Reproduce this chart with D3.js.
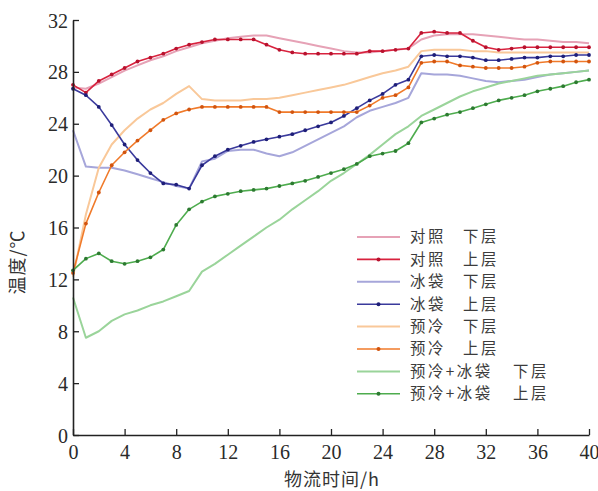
<!DOCTYPE html>
<html>
<head>
<meta charset="utf-8">
<script src="https://cdn.jsdelivr.net/npm/d3@7"></script>
<style>
  html, body { margin: 0; padding: 0; background: #fff; }
  svg { display: block; }
</style>
</head>
<body>
<div id="chart"></div>
<script>
// hours 0..40
const hours = d3.range(0, 41);

const ctrlLower = [26.8, 26.7, 27.1, 27.6, 28.1, 28.5, 28.9, 29.2, 29.6, 29.9, 30.2, 30.4, 30.6, 30.7, 30.8, 30.8, 30.6, 30.4, 30.2, 30.0,
  29.8, 29.6, 29.5, 29.5, 29.6, 29.7, 29.8, 30.5, 30.8, 30.9, 30.9, 30.9, 30.8, 30.7, 30.6, 30.5, 30.5, 30.4, 30.3, 30.3, 30.2];
const ctrlUpper = [27.0, 26.4, 27.3, 27.8, 28.3, 28.8, 29.1, 29.4, 29.8, 30.1, 30.3, 30.5, 30.5, 30.5, 30.5, 30.1, 29.7, 29.5, 29.4, 29.4,
  29.4, 29.4, 29.4, 29.6, 29.6, 29.7, 29.8, 31.0, 31.1, 31.0, 31.0, 30.4, 29.9, 29.7, 29.8, 29.9, 29.9, 29.9, 29.9, 29.9, 29.9];
const iceLower = [23.5, 20.7, 20.6, 20.6, 20.4, 20.1, 19.8, 19.5, 19.2, 19.0, 21.1, 21.3, 21.9, 22.0, 22.0, 21.7, 21.5, 21.8, 22.3, 22.8,
  23.3, 23.8, 24.5, 25.0, 25.3, 25.6, 26.0, 27.9, 27.8, 27.8, 27.7, 27.5, 27.3, 27.2, 27.3, 27.4, 27.6, 27.8, 27.9, 28.0, 28.1];
const iceUpper = [26.7, 26.2, 25.3, 23.9, 22.4, 21.2, 20.2, 19.4, 19.3, 19.0, 20.8, 21.5, 22.0, 22.3, 22.6, 22.8, 23.0, 23.2, 23.5, 23.8,
  24.1, 24.6, 25.2, 25.8, 26.3, 27.0, 27.4, 29.2, 29.3, 29.2, 29.2, 29.1, 28.9, 28.9, 29.0, 29.1, 29.1, 29.2, 29.2, 29.3, 29.3];
const preLower = [12.2, 17.0, 20.6, 22.4, 23.5, 24.4, 25.1, 25.6, 26.3, 26.9, 25.9, 25.8, 25.8, 25.8, 25.9, 25.9, 26.0, 26.2, 26.4, 26.6,
  26.8, 27.0, 27.3, 27.6, 27.9, 28.1, 28.4, 29.6, 29.7, 29.7, 29.7, 29.6, 29.6, 29.5, 29.5, 29.5, 29.5, 29.5, 29.5, 29.5, 29.5];
const preUpper = [12.5, 16.3, 18.7, 20.8, 21.8, 22.7, 23.5, 24.3, 24.8, 25.1, 25.3, 25.3, 25.3, 25.3, 25.3, 25.3, 24.9, 24.9, 24.9, 24.9,
  24.9, 24.9, 24.9, 25.4, 26.0, 26.2, 26.8, 28.7, 28.8, 28.8, 28.5, 28.4, 28.3, 28.3, 28.3, 28.4, 28.7, 28.8, 28.8, 28.8, 28.8];
const bothLower = [10.6, 7.5, 8.0, 8.8, 9.3, 9.6, 10.0, 10.3, 10.7, 11.1, 12.6, 13.2, 13.9, 14.6, 15.3, 16.0, 16.6, 17.4, 18.1, 18.8,
  19.6, 20.2, 20.9, 21.6, 22.4, 23.2, 23.8, 24.6, 25.1, 25.6, 26.1, 26.5, 26.8, 27.1, 27.3, 27.5, 27.7, 27.8, 27.9, 28.0, 28.1];
const bothUpper = [12.7, 13.6, 14.0, 13.4, 13.2, 13.4, 13.7, 14.3, 16.2, 17.4, 18.0, 18.4, 18.6, 18.8, 18.9, 19.0, 19.2, 19.4, 19.6, 19.9,
  20.2, 20.5, 20.9, 21.5, 21.7, 21.9, 22.5, 24.1, 24.4, 24.7, 24.9, 25.2, 25.5, 25.8, 26.0, 26.2, 26.5, 26.7, 26.9, 27.2, 27.4];

const seriesNames = ["对照", "对照", "冰袋", "冰袋", "预冷", "预冷", "预冷+冰袋", "预冷+冰袋"];
const layerNames = ["下层", "上层", "下层", "上层", "下层", "上层", "下层", "上层"];
const seriesValues = [ctrlLower, ctrlUpper, iceLower, iceUpper, preLower, preUpper, bothLower, bothUpper];

const xTicks = d3.range(0, 41, 4);
const yTicks = d3.range(0, 33, 4);

const lineColors = ["#e6a2b6", "#d8223e", "#a6a6da", "#3a3a9c", "#f9c899", "#f07a2a", "#9ad49a", "#4eac4e"];
const dotColors = [null, "#b8122e", null, "#1e1e78", null, "#d2540e", null, "#2c7a30"];

const width = 598, height = 491;
const margin = { left: 73, right: 9, top: 20, bottom: 56 };

const svg = d3.select("#chart").append("svg")
  .attr("width", width)
  .attr("height", height);

const x = d3.scaleLinear().domain([0, 40]).range([margin.left, width - margin.right]);
const y = d3.scaleLinear().domain([0, 32]).range([height - margin.bottom, margin.top]);

// lines, lower layers first so the dotted ones sit on top
const order = [0, 2, 4, 6, 1, 3, 5, 7];
const line = d3.line().x((d, i) => x(hours[i])).y(d => y(d));

order.forEach(k => {
  const upper = dotColors[k] !== null;
  svg.append("path")
    .datum(seriesValues[k])
    .attr("fill", "none")
    .attr("stroke", lineColors[k])
    .attr("stroke-width", upper ? 1.6 : 2)
    .attr("stroke-linejoin", "round")
    .attr("d", line);
  if (upper) {
    svg.append("g").selectAll("circle")
      .data(seriesValues[k])
      .join("circle")
      .attr("cx", (d, i) => x(hours[i]))
      .attr("cy", d => y(d))
      .attr("r", 1.9)
      .attr("fill", dotColors[k]);
  }
});

// axes
const xAxis = svg.append("g")
  .attr("transform", `translate(0,${y(0)})`)
  .call(d3.axisBottom(x).tickValues(xTicks).tickSizeInner(-6).tickSizeOuter(0).tickPadding(9));
const yAxis = svg.append("g")
  .attr("transform", `translate(${x(0)},0)`)
  .call(d3.axisLeft(y).tickValues(yTicks).tickSizeInner(-6).tickSizeOuter(0).tickPadding(5));

[xAxis, yAxis].forEach(g => {
  g.select(".domain").attr("stroke", "#222").attr("stroke-width", 1.6);
  g.selectAll(".tick line").attr("stroke", "#222").attr("stroke-width", 1.3);
  g.selectAll(".tick text")
    .attr("fill", "#2a2a2a")
    .style("font-family", "'Liberation Serif', 'DejaVu Serif', serif")
    .style("font-size", "20px");
});
xAxis.selectAll(".tick text").attr("dy", "0.75em");
yAxis.selectAll(".tick text").attr("dy", "0.35em");

// axis titles
svg.append("text")
  .attr("x", 332).attr("y", 486)
  .attr("text-anchor", "middle")
  .attr("fill", "#333")
  .style("font-family", "'Noto Sans CJK SC', sans-serif")
  .style("font-size", "18px")
  .style("letter-spacing", "1px")
  .text("物流时间/h");

svg.append("text")
  .attr("transform", "translate(24,262) rotate(-90)")
  .attr("text-anchor", "middle")
  .attr("fill", "#333")
  .style("font-family", "'Noto Sans CJK SC', sans-serif")
  .style("font-size", "18px")
  .style("letter-spacing", "1px")
  .text("温度/℃");

// legend
const legend = svg.append("g").attr("transform", "translate(357,237)");
const rowH = 22.4;
seriesNames.forEach((name, k) => {
  const row = legend.append("g").attr("transform", `translate(0,${k * rowH})`);
  row.append("line")
    .attr("x1", 0).attr("x2", 43)
    .attr("stroke", lineColors[k])
    .attr("stroke-width", dotColors[k] ? 1.6 : 2);
  if (dotColors[k]) {
    row.append("circle").attr("cx", 21.5).attr("r", 2).attr("fill", dotColors[k]);
  }
  [[53, name], [name.length > 2 ? 156 : 106, layerNames[k]]].forEach(([tx, label]) => {
    row.append("text")
      .attr("x", tx).attr("y", 0).attr("dy", "0.35em")
      .attr("fill", "#3c3c3c")
      .style("font-family", "'Noto Sans CJK SC', sans-serif")
      .style("font-size", "15.4px")
      .style("letter-spacing", "2.5px")
      .text(label);
  });
});
</script>
</body>
</html>
